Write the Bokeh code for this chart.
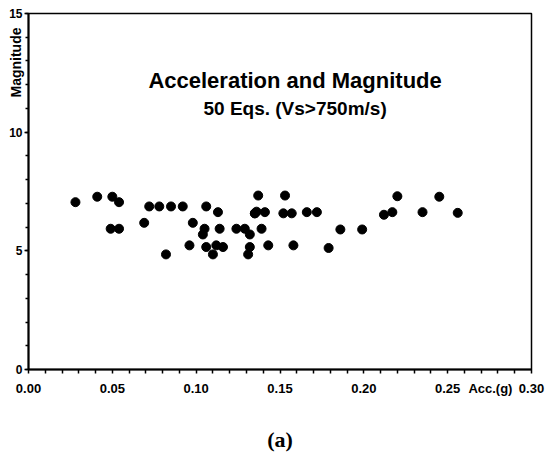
from bokeh.plotting import figure
from bokeh.models import FixedTicker, PrintfTickFormatter, Label, ColumnDataSource, Title
from bokeh.embed import file_html
from bokeh.resources import INLINE

# Data: acceleration (g) and magnitude, 50 earthquakes
acc = [0.028, 0.041, 0.050, 0.054, 0.049, 0.054, 0.069, 0.072, 0.078, 0.085,
       0.092, 0.082, 0.096, 0.098, 0.106, 0.105, 0.104, 0.106, 0.110, 0.113,
       0.114, 0.112, 0.116, 0.124, 0.129, 0.132, 0.132, 0.131, 0.135, 0.136,
       0.137, 0.139, 0.141, 0.143, 0.152, 0.153, 0.157, 0.158, 0.166, 0.172,
       0.179, 0.186, 0.199, 0.212, 0.217, 0.220, 0.235, 0.245, 0.256, 0.135]
mag = [7.05, 7.28, 7.28, 7.05, 5.93, 5.93, 6.18, 6.87, 6.87, 6.87,
       6.87, 4.85, 5.23, 6.18, 6.87, 5.93, 5.69, 5.16, 4.85, 6.63,
       5.93, 5.23, 5.16, 5.93, 5.93, 5.69, 5.16, 4.85, 6.58, 6.65,
       7.33, 5.93, 6.63, 5.23, 6.58, 7.33, 6.58, 5.23, 6.63, 6.63,
       5.12, 5.90, 5.90, 6.52, 6.63, 7.30, 6.63, 7.28, 6.60, 6.58]

x_major = [0.0, 0.05, 0.10, 0.15, 0.20, 0.25, 0.30]
x_unit_pos = 0.2755
x_minor = [i / 100 for i in range(0, 31)]
y_major = [0, 5, 10, 15]
y_minor = list(range(0, 16))

title_text = "Acceleration and Magnitude"
subtitle_text = "50 Eqs. (Vs>750m/s)"
y_label_text = "Magnitude"
x_unit_text = "Acc.(g)"
panel_text = "(a)"

FONT = "Liberation Sans"

p = figure(width=547, height=457, output_backend="svg", toolbar_location=None,
           x_range=(0, 0.30), y_range=(0, 15),
           min_border_left=28, min_border_right=16, min_border_top=13, min_border_bottom=88)
p.background_fill_color = "white"
p.border_fill_color = "white"
p.outline_line_color = "black"
p.outline_line_width = 1.5
p.xgrid.grid_line_color = None
p.ygrid.grid_line_color = None

src = ColumnDataSource(dict(x=acc, y=mag))
p.scatter("x", "y", source=src, size=9, color="black", marker="circle")

# x axis
xa = p.xaxis[0]
xa.ticker = FixedTicker(ticks=x_major + [x_unit_pos], minor_ticks=x_minor)
xa.formatter = PrintfTickFormatter(format="%.2f")
xa.major_label_overrides = {x_unit_pos: x_unit_text}
xa.axis_line_width = 2
xa.major_tick_line_color = None
xa.major_tick_in = 0
xa.major_tick_out = 4
xa.minor_tick_in = 0
xa.minor_tick_out = 4
xa.minor_tick_line_width = 1.5
xa.minor_tick_line_color = "black"
xa.major_label_text_font = FONT
xa.major_label_text_font_style = "bold"
xa.major_label_text_font_size = "13px"
xa.major_label_text_color = "black"
xa.major_label_standoff = 7
xa.axis_label = panel_text
xa.axis_label_text_font = "Liberation Serif"
xa.axis_label_text_font_style = "bold"
xa.axis_label_text_font_size = "22px"
xa.axis_label_text_color = "black"
xa.axis_label_standoff = 28

# y axis
ya = p.yaxis[0]
ya.ticker = FixedTicker(ticks=y_major, minor_ticks=y_minor)
ya.axis_line_width = 2
ya.major_tick_in = 0
ya.major_tick_out = 4
ya.minor_tick_in = 0
ya.minor_tick_out = 3
ya.major_tick_line_width = 1.5
ya.minor_tick_line_width = 1.5
ya.major_label_text_font = FONT
ya.major_label_text_font_style = "bold"
ya.major_label_text_font_size = "12px"
ya.major_label_text_color = "black"
ya.major_label_standoff = 2

p.add_layout(Title(text=y_label_text, align="right", offset=14, standoff=-34,
                   text_font=FONT, text_font_style="bold", text_font_size="14px",
                   text_color="black"), "left")

p.add_layout(Label(x=0.159, y=12.16, text=title_text, text_align="center",
                   text_baseline="middle", text_font=FONT, text_font_style="bold",
                   text_font_size="22px", text_color="black"))
p.add_layout(Label(x=0.159, y=10.98, text=subtitle_text, text_align="center",
                   text_baseline="middle", text_font=FONT, text_font_style="bold",
                   text_font_size="19px", text_color="black"))

open("out.html", "w").write(file_html(p, INLINE))
